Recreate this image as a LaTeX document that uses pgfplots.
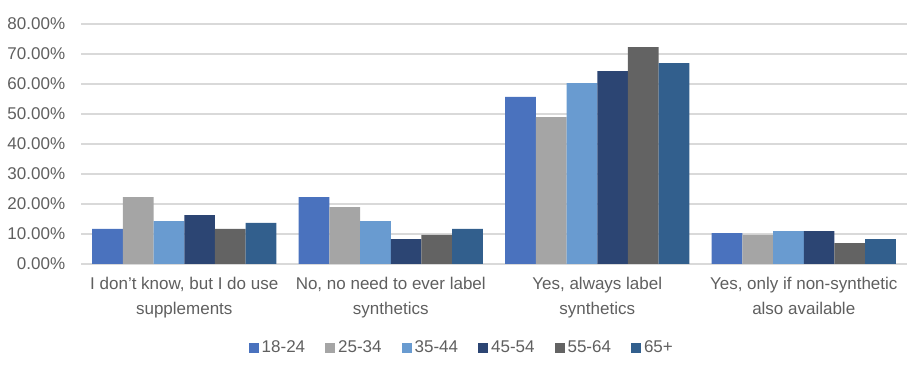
\documentclass[border=0pt]{standalone}
\usepackage{pgfplots}
\pgfplotsset{compat=1.18}
\usepackage{fontspec}
\setmainfont{Liberation Sans}
\definecolor{cA}{HTML}{4A72BE}
\definecolor{cB}{HTML}{A5A5A5}
\definecolor{cC}{HTML}{699BD0}
\definecolor{cD}{HTML}{2C4573}
\definecolor{cE}{HTML}{636363}
\definecolor{cF}{HTML}{325F8D}
\definecolor{txt}{HTML}{5F5F5F}
\definecolor{grd}{HTML}{D9D9D9}
\begin{document}
\begin{tikzpicture}
\fontsize{17bp}{25bp}\selectfont
\useasboundingbox (0,0) rectangle (924bp,374bp);
\begin{axis}[
  at={(81bp,110bp)}, anchor=south west,
  scale only axis, width=826bp, height=240bp,
  ybar=0pt, bar width=30.7bp,
  xmin=-0.5, xmax=3.5, ymin=0, ymax=80,
  xtick={0,1,2,3},
  xticklabels={{I don't know, but I do use\\supplements},{No, no need to ever label\\synthetics},{Yes, always label\\synthetics},{Yes, only if non-synthetic\\also available}},
  xticklabel style={align=center, text=txt, font=\fontsize{17bp}{25bp}\selectfont, yshift=-7bp},
  ytick={0,10,...,80},
  yticklabel={\pgfmathprintnumber[fixed,fixed zerofill,precision=2]{\tick}\%},
  /pgf/number format/assume math mode=true,
  yticklabel style={text=txt, font=\fontsize{17bp}{18bp}\selectfont, xshift=-10bp},
  major tick length=0pt,
  axis line style={draw=none},
  ymajorgrids, grid style={grd, line width=1.3bp},
  legend columns=6,
  legend style={draw=none, fill=none, at={(0.461,-0.35)}, anchor=center,
    font=\fontsize{17bp}{18bp}\selectfont, text=txt,
    /tikz/every odd column/.append style={column sep=1bp},
    /tikz/every even column/.append style={column sep=18bp}},
  legend image code/.code={\fill[#1,draw=none] (0bp,-5bp) rectangle (10bp,5bp);},
]
\addplot[fill=cA, draw=none] coordinates {(0,11.7) (1,22.3) (2,55.7) (3,10.3)};
\addplot[fill=cB, draw=none] coordinates {(0,22.3) (1,19.0) (2,49.0) (3,9.7)};
\addplot[fill=cC, draw=none] coordinates {(0,14.3) (1,14.3) (2,60.3) (3,11.0)};
\addplot[fill=cD, draw=none] coordinates {(0,16.3) (1,8.3) (2,64.3) (3,11.0)};
\addplot[fill=cE, draw=none] coordinates {(0,11.7) (1,9.7) (2,72.3) (3,7.0)};
\addplot[fill=cF, draw=none] coordinates {(0,13.7) (1,11.7) (2,67.0) (3,8.3)};
\legend{18-24,25-34,35-44,45-54,55-64,65+}
\end{axis}
\end{tikzpicture}
\end{document}
